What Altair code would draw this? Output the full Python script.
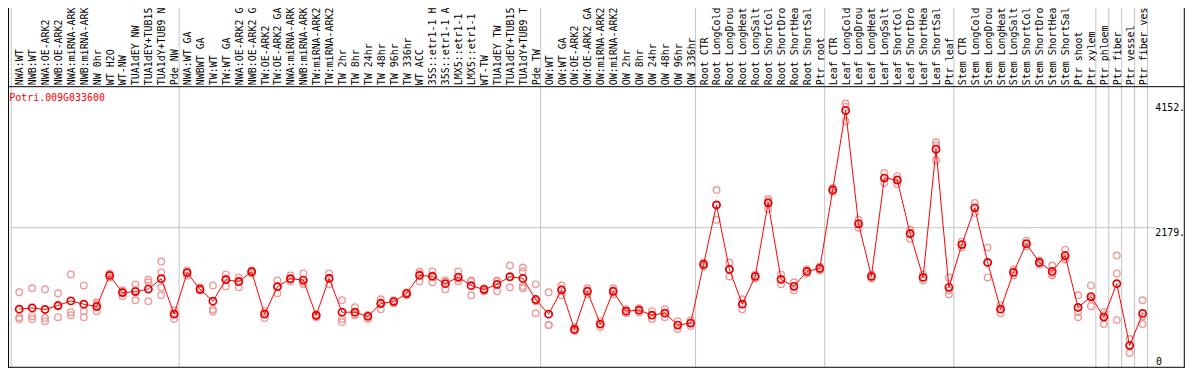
import altair as alt
import pandas as pd

categories = [
    "NWA:WT", "NWB:WT", "NWA:OE-ARK2", "NWB:OE-ARK2", "NWA:miRNA-ARK2", "NWB:miRNA-ARK2",
    "NW 0hr", "WT H2O", "WT-NW", "TUA1dEY NW", "TUA1dEY+TUB15", "TUA1dY+TUB9 NW", "Pde NW",
    "NWA:WT GA", "NWBWT GA", "TW:WT", "TW:WT GA", "NWA:OE-ARK2 GA", "NWB:OE-ARK2 GA",
    "TW:OE-ARK2", "TW:OE-ARK2 GA", "NWA:miRNA-ARK2", "NWB:miRNA-ARK2", "TW:miRNA-ARK2",
    "TW:miRNA-ARK2", "TW 2hr", "TW 8hr", "TW 24hr", "TW 48hr", "TW 96hr", "TW 336hr", "WT ACC",
    "35S::etr1-1 H2", "35S::etr1-1 AC", "LMX5::etr1-1 H", "LMX5::etr1-1 A", "WT-TW",
    "TUA1dEY TW", "TUA1dEY+TUB15", "TUA1dY+TUB9 TW", "Pde TW",
    "OW:WT", "OW:WT GA", "OW:OE-ARK2", "OW:OE-ARK2 GA", "OW:miRNA-ARK2", "OW:miRNA-ARK2",
    "OW 2hr", "OW 8hr", "OW 24hr", "OW 48hr", "OW 96hr", "OW 336hr",
    "Root CTR", "Root LongCold", "Root LongDroug", "Root LongHeat", "Root LongSalt",
    "Root ShortCold", "Root ShortDrou", "Root ShortHeat", "Root ShortSalt", "Ptr root",
    "Leaf CTR", "Leaf LongCold", "Leaf LongDroug", "Leaf LongHeat", "Leaf LongSalt",
    "Leaf ShortCold", "Leaf ShortDrou", "Leaf ShortHeat", "Leaf ShortSalt", "Ptr leaf",
    "Stem CTR", "Stem LongCold", "Stem LongDroug", "Stem LongHeat", "Stem LongSalt",
    "Stem ShortCold", "Stem ShortDrou", "Stem ShortHeat", "Stem ShortSalt",
    "Ptr shoot", "Ptr xylem", "Ptr phloem", "Ptr fiber", "Ptr vessel", "Ptr fiber vess",
]

mean_expr = [
    884, 904, 879, 942, 1015, 963, 926, 1420, 1147, 1163, 1204, 1368, 805,
    1463, 1200, 1010, 1353, 1321, 1479, 805, 1242, 1368, 1346, 784, 1373, 836, 836, 769,
    974, 1005, 1132, 1420, 1405, 1289, 1394, 1258, 1195, 1278, 1400, 1373, 1037,
    805, 1188, 563, 1168, 647, 1168, 852, 868, 789, 821, 631, 663,
    1594, 2541, 1515, 963, 1405, 2573, 1357, 1247, 1484, 1531,
    2778, 4040, 2241, 1405, 2967, 2936, 2083, 1389, 3425, 1231,
    1910, 2494, 1626, 884, 1468, 1925, 1626, 1484, 1736,
    911, 1084, 758, 1289, 305, 816,
]

rep_a = [
    1152, 1215, 1199, 1136, 1436, 1262, 994, 1452, 1184, 1278, 1357, 1641, 868,
    1499, 1231, 1262, 1436, 1389, 1499, 852, 1341, 1420, 1452, 805, 1452, 1026, 915, 726,
    1041, 1026, 1152, 1483, 1483, 1326, 1483, 1341, 1215, 1341, 1578, 1546, 1278,
    1152, 1262, 600, 1215, 694, 1215, 884, 899, 852, 884, 694, 710,
    1625, 2777, 1625, 1041, 1436, 2635, 1436, 1310, 1515, 1562,
    2809, 4152, 2304, 1436, 3046, 2998, 2146, 1436, 3535, 1389,
    1957, 2572, 1862, 947, 1515, 1973, 1657, 1578, 1830,
    1105, 1262, 836, 1736, 410, 1026,
]
rep_b = [
    757, 773, 742, 757, 836, 852, 963, 1420, 1089, 1026, 1310, 1468, 726,
    1468, 1184, 884, 1247, 1231, 1483, 742, 1136, 1357, 1278, 789, 1278, 726, 805, 789,
    994, 1010, 1136, 1326, 1310, 1199, 1326, 1105, 1199, 1168, 1231, 1483, 821,
    631, 1105, 552, 1168, 647, 1168, 852, 868, 789, 821, 631, 663,
    1594, 2541, 1515, 963, 1404, 2604, 1357, 1247, 1483, 1531,
    2777, 4100, 2241, 1404, 2967, 2935, 2099, 1389, 3487, 1184,
    1909, 2493, 1625, 884, 1468, 1925, 1625, 1452, 1704,
    836, 931, 647, 1452, 189, 647,
]
rep_c = [
    726, 726, 694, 931, 789, 757, 852, 1389, 1168, 1184, 1010, 1231, 821,
    1420, 1184, 852, 1373, 1341, 1452, 821, 1247, 1326, 1310, 757, 1389, 679, 789, 789,
    884, 978, 1105, 1452, 1420, 1341, 1373, 1326, 1168, 1326, 1389, 1247, 1010,
    631, 1199, 537, 1120, 600, 1120, 821, 836, 726, 757, 568, 615,
    1562, 2304, 1404, 884, 1373, 2477, 1278, 1184, 1452, 1499,
    2746, 3870, 2178, 1373, 2888, 2872, 2004, 1341, 3251, 1120,
    1862, 2414, 1389, 821, 1420, 1878, 1594, 1420, 1673,
    757, 1057, 789, 710, 316, 773,
]
rep_extra_index = [11, 39]
rep_extra_value = [1105, 1215]

group_ends = [-1, 12, 40, 52, 62, 72, 83, 84, 85, 86, 87]
gene_name = "Potri.009G033600"
axis_values = [4152, 2179]
axis_texts = ["4152.", "2179."]
zero_value = [0]
zero_text = ["0"]
grid_values = [2179]

FONT = "DejaVu Sans Mono"
n = len(categories)

df = pd.DataFrame({"idx": list(range(n)), "cat": categories, "mean": mean_expr})
reps = pd.DataFrame({
    "idx": list(range(n)) * 3 + rep_extra_index,
    "value": rep_a + rep_b + rep_c + rep_extra_value,
})
seps = pd.DataFrame({"pos": [g + 0.38 for g in group_ends]})
grid = pd.DataFrame({"v": grid_values})
axlab = pd.DataFrame({"v": axis_values, "t": axis_texts})
zerolab = pd.DataFrame({"v": zero_value, "t": zero_text})

W, H = 1144, 282
xs = alt.Scale(domain=[-0.5, n - 0.5], nice=False, zero=False)
ys = alt.Scale(domain=[-31.6, 4419], nice=False, zero=False)
X = alt.X("idx:Q", scale=xs, axis=None)
Y = alt.Y("mean:Q", scale=ys, axis=None)

sep_layer = alt.Chart(seps).mark_rule(color="#c4c4c4", strokeWidth=1).encode(
    x=alt.X("pos:Q", scale=xs, axis=None), y=alt.value(-90), y2=alt.value(H + 1)
)
grid_layer = alt.Chart(grid).mark_rule(color="#c4c4c4", strokeWidth=1).encode(
    y=alt.Y("v:Q", scale=ys, axis=None), x=alt.value(-2.1), x2=alt.value(1150)
)
frame_h = alt.Chart(pd.DataFrame({"a": [0, H + 0.5]})).mark_rule(color="black", strokeWidth=1).encode(
    y=alt.Y("a:Q", scale=None), x=alt.value(-6), x2=alt.value(1180)
)
frame_v = alt.Chart(pd.DataFrame({"a": [-4.3, 1179.5]})).mark_rule(color="black", strokeWidth=1).encode(
    x=alt.X("a:Q", scale=None), y=alt.value(-90), y2=alt.value(H + 1)
)
rep_layer = alt.Chart(reps).mark_point(
    shape="circle", filled=False, size=44, strokeWidth=1.4, color="#ee9a9a", opacity=1
).encode(x=X, y=alt.Y("value:Q", scale=ys, axis=None))
line_layer = alt.Chart(df).mark_line(color="#ff0000", strokeWidth=1).encode(x=X, y=Y)
mean_layer = alt.Chart(df).mark_point(
    shape="circle", filled=False, size=52, strokeWidth=1.7, color="#e80000", opacity=1
).encode(x=X, y=Y)
label_layer = alt.Chart(df).mark_text(
    angle=270, align="left", baseline="middle", dy=1, font=FONT, fontSize=10, color="black"
).encode(x=X, y=alt.value(-1.5), text="cat:N")
title_layer = alt.Chart(pd.DataFrame({"t": [gene_name]})).mark_text(
    align="left", baseline="alphabetic", font=FONT, fontSize=10, color="#ff0000"
).encode(x=alt.value(-3.5), y=alt.value(14), text="t:N")
axis_layer = alt.Chart(axlab).mark_text(
    align="left", baseline="top", font=FONT, fontSize=10, color="black"
).encode(x=alt.value(1150.2), y=alt.Y("v:Q", scale=ys, axis=None), text="t:N")
zero_layer = alt.Chart(zerolab).mark_text(
    align="left", baseline="alphabetic", font=FONT, fontSize=10, color="black"
).encode(x=alt.value(1151), y=alt.Y("v:Q", scale=ys, axis=None), text="t:N")

chart = alt.layer(
    sep_layer, grid_layer, frame_h, frame_v, rep_layer, line_layer, mean_layer,
    label_layer, title_layer, axis_layer, zero_layer
).properties(
    width=W, height=H,
    autosize=alt.AutoSizeParams(type="none"),
    padding={"left": 4.8, "top": 78, "right": 37.2, "bottom": 2},
).configure_view(stroke=None)

chart.save("out.html", embed_options={"renderer": "svg", "actions": False})
